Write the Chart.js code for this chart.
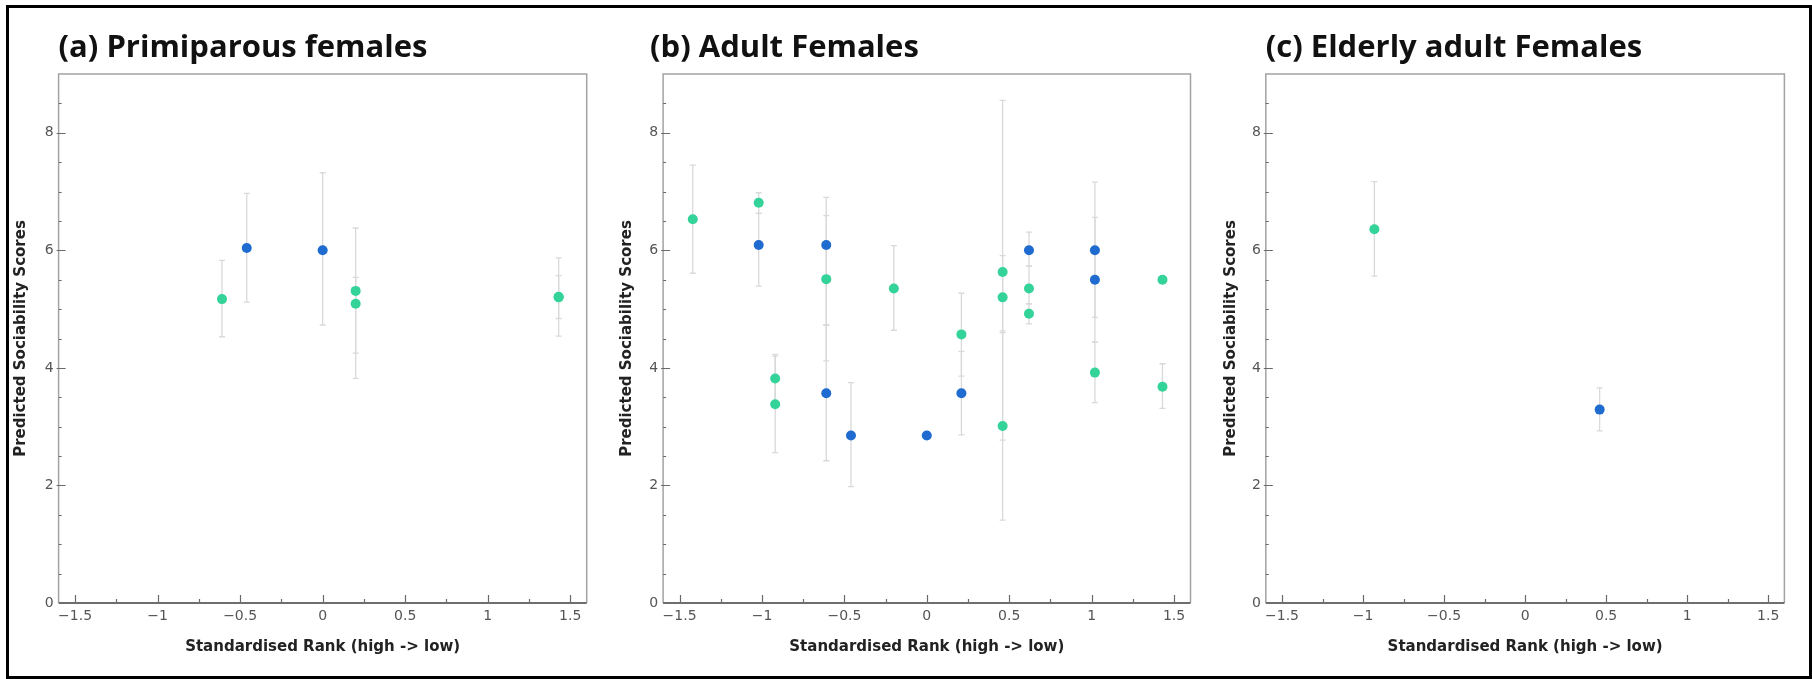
<!DOCTYPE html>
<html>
<head>
<meta charset="utf-8">
<script src="https://cdn.jsdelivr.net/npm/chart.js@4.4.1/dist/chart.umd.min.js"></script>
<style>
  body { margin: 0; background: #fff; }
  #frame { position: absolute; left: 6px; top: 5px; width: 1806px; height: 674px; box-sizing: border-box; border: 3px solid #000; }
  .panel { position: absolute; top: 8px; }
</style>
</head>
<body>
<div id="frame"></div>
<canvas id="chartA" class="panel"></canvas>
<canvas id="chartB" class="panel"></canvas>
<canvas id="chartC" class="panel"></canvas>
<script>
// ticks and labels
const xTicks = [-1.5, -1, -0.5, 0, 0.5, 1, 1.5];
const yTicks = [0, 2, 4, 6, 8];
const xTitle = 'Standardised Rank (high -> low)';
const yTitle = 'Predicted Sociability Scores';
const titles = ['(a) Primiparous females', '(b) Adult Females', '(c) Elderly adult Females'];

// (a) primiparous
const aGreenX  = [-0.61, 0.20, 0.20, 1.43, 1.43];
const aGreenY  = [5.17, 5.31, 5.09, 5.21, 5.20];
const aGreenLo = [4.53, 4.25, 3.82, 4.54, 4.84];
const aGreenHi = [5.83, 6.38, 5.54, 5.87, 5.57];
const aBlueX   = [-0.46, 0.00];
const aBlueY   = [6.04, 6.00];
const aBlueLo  = [5.12, 4.73];
const aBlueHi  = [6.97, 7.32];

// (b) adult
const bGreenX  = [-1.42, -1.02, -0.92, -0.92, -0.61, -0.20, 0.21, 0.46, 0.46, 0.46, 0.62, 0.62, 1.02, 1.43, 1.43];
const bGreenY  = [6.53, 6.81, 3.82, 3.38, 5.51, 5.35, 4.57, 5.63, 5.20, 3.01, 5.35, 4.92, 3.92, 5.50, 3.68];
const bGreenLo = [5.61, 6.63, 3.42, 2.56, 4.12, 4.64, 3.86, 2.77, 4.63, 1.41, 5.09, 4.75, 3.41, null, 3.31];
const bGreenHi = [7.45, 6.98, 4.23, 4.20, 6.59, 6.08, 5.27, 8.55, 5.91, 4.60, 5.73, 5.09, 4.44, null, 4.07];
const bBlueX   = [-1.02, -0.61, -0.61, -0.46, 0.00, 0.21, 0.62, 1.02, 1.02];
const bBlueY   = [6.09, 6.09, 3.57, 2.85, 2.85, 3.57, 6.00, 6.00, 5.50];
const bBlueLo  = [5.39, 4.73, 2.42, 1.98, null, 2.86, 5.73, 4.86, 4.44];
const bBlueHi  = [6.63, 6.90, 4.73, 3.75, null, 4.28, 6.31, 7.16, 6.56];

// (c) elderly
const cGreenX  = [-0.93];
const cGreenY  = [6.36];
const cGreenLo = [5.56];
const cGreenHi = [7.17];
const cBlueX   = [0.46];
const cBlueY   = [3.29];
const cBlueLo  = [2.93];
const cBlueHi  = [3.66];

const GREEN = '#34d39a';
const BLUE = '#1f6bd0';

function pts(xs, ys) {
  return xs.map((x, i) => ({ x: x, y: ys[i] }));
}

function fmt(v) {
  return v < 0 ? '\u2212' + Math.abs(v) : String(v);
}

const errorBars = {
  id: 'errorBars',
  beforeDatasetsDraw(chart) {
    const { ctx, scales: { x, y } } = chart;
    ctx.save();
    ctx.strokeStyle = '#d9d9d9';
    ctx.lineWidth = 1.3;
    chart.data.datasets.forEach(ds => {
      ds.data.forEach((p, i) => {
        const lo = ds.errLo[i], hi = ds.errHi[i];
        if (lo == null || hi == null) return;
        const px = x.getPixelForValue(p.x);
        const y1 = y.getPixelForValue(lo);
        const y2 = y.getPixelForValue(hi);
        ctx.beginPath();
        ctx.moveTo(px, y1); ctx.lineTo(px, y2);
        ctx.moveTo(px - 3, y1); ctx.lineTo(px + 3, y1);
        ctx.moveTo(px - 3, y2); ctx.lineTo(px + 3, y2);
        ctx.stroke();
      });
    });
    ctx.restore();
  }
};

// plot frame, inward tick marks and the panel heading
const frame = {
  id: 'frame',
  beforeDatasetsDraw(chart, args, opts) {
    const { ctx, chartArea: a, scales: { x, y } } = chart;
    ctx.save();
    ctx.strokeStyle = '#a3a3a3';
    ctx.lineWidth = 1.5;
    ctx.beginPath();
    ctx.moveTo(a.left, a.bottom); ctx.lineTo(a.left, a.top);
    ctx.lineTo(a.right, a.top); ctx.lineTo(a.right, a.bottom);
    ctx.stroke();

    ctx.strokeStyle = '#6a6a6a';
    ctx.lineWidth = 1.2;
    ctx.beginPath();
    for (let v = -1.5; v <= 1.5001; v += 0.25) {
      const px = Math.round(x.getPixelForValue(v)) + 0.5;
      const major = Math.abs(v * 2 - Math.round(v * 2)) < 1e-6;
      ctx.moveTo(px, a.bottom); ctx.lineTo(px, a.bottom - (major ? 8 : 4));
    }
    for (let v = 0.5; v <= 8.5001; v += 0.5) {
      const py = Math.round(y.getPixelForValue(v)) + 0.5;
      const major = Math.abs(v / 2 - Math.round(v / 2)) < 1e-6;
      ctx.moveTo(a.left - (major ? 2 : 0), py); ctx.lineTo(a.left + (major ? 7 : 3), py);
    }
    ctx.stroke();

    ctx.strokeStyle = '#6e6e6e';
    ctx.lineWidth = 2;
    ctx.beginPath();
    ctx.moveTo(a.left, a.bottom); ctx.lineTo(a.right, a.bottom);
    ctx.stroke();
    ctx.restore();
  },
  afterDraw(chart, args, opts) {
    const { ctx, chartArea: a } = chart;
    ctx.save();
    ctx.fillStyle = '#111';
    ctx.font = 'bold 31px "Open Sans"';
    ctx.textBaseline = 'alphabetic';
    ctx.fillText(opts.text, a.left + opts.dx, 49);
    ctx.restore();
  }
};

function makePanel(id, left, width, yWidth, rightPad, title, titleDx, gx, gy, glo, ghi, bx, by, blo, bhi) {
  const canvas = document.getElementById(id);
  canvas.width = width;
  canvas.height = 648;
  canvas.style.left = left + 'px';
  return new Chart(canvas, {
    type: 'scatter',
    data: {
      datasets: [
        { data: pts(gx, gy), errLo: glo, errHi: ghi, backgroundColor: GREEN, borderWidth: 0, pointRadius: 5 },
        { data: pts(bx, by), errLo: blo, errHi: bhi, backgroundColor: BLUE, borderWidth: 0, pointRadius: 5 }
      ]
    },
    options: {
      responsive: false,
      animation: false,
      layout: { padding: { top: 66, right: rightPad, left: 0, bottom: 0 } },
      plugins: {
        legend: { display: false },
        tooltip: { enabled: false },
        frame: { text: title, dx: titleDx }
      },
      scales: {
        x: {
          type: 'linear', min: -1.6, max: 1.6,
          afterBuildTicks: s => { s.ticks = xTicks.map(v => ({ value: v })); },
          afterFit: s => { s.height = 53; },
          grid: { display: false, drawTicks: false },
          border: { display: false },
          ticks: { color: '#555', padding: 5, maxRotation: 0, autoSkip: false, font: { family: 'DejaVu Sans', size: 14 }, callback: v => fmt(v) },
          title: { display: true, text: xTitle, color: '#222', padding: 0, font: { family: 'DejaVu Sans', size: 15, weight: 'bold' } }
        },
        y: {
          min: 0, max: 9,
          afterBuildTicks: s => { s.ticks = yTicks.map(v => ({ value: v })); },
          afterFit: s => { s.width = yWidth; },
          grid: { display: false, drawTicks: false },
          border: { display: false },
          ticks: { color: '#555', padding: 5, font: { family: 'DejaVu Sans', size: 14 }, callback: v => fmt(v) },
          title: { display: true, text: yTitle, color: '#222', padding: 0, font: { family: 'DejaVu Sans', size: 15, weight: 'bold' } }
        }
      }
    },
    plugins: [errorBars, frame]
  });
}

makePanel('chartA', 12, 591, 46.6, 16.3, titles[0], 0, aGreenX, aGreenY, aGreenLo, aGreenHi, aBlueX, aBlueY, aBlueLo, aBlueHi);
makePanel('chartB', 618, 586, 45.1, 13.5, titles[1], -13, bGreenX, bGreenY, bGreenLo, bGreenHi, bBlueX, bBlueY, bBlueLo, bBlueHi);
makePanel('chartC', 1222, 581, 43.8, 18.6, titles[2], 0, cGreenX, cGreenY, cGreenLo, cGreenHi, cBlueX, cBlueY, cBlueLo, cBlueHi);
</script>
</body>
</html>
